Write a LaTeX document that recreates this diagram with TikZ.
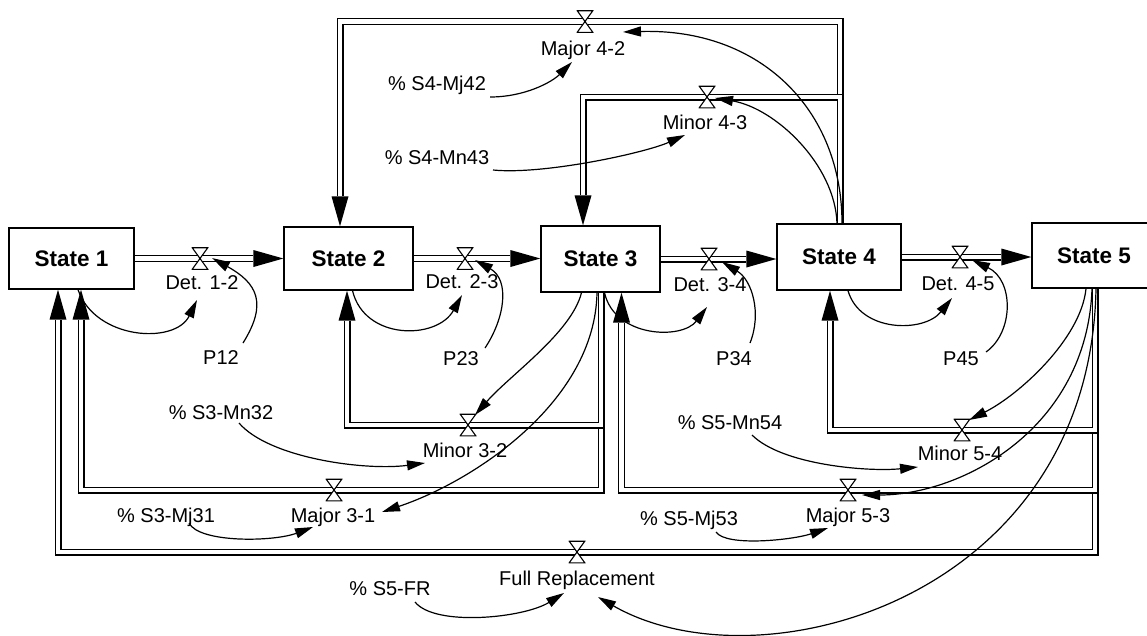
\documentclass[tikz,border=0pt]{standalone}
\usepackage{fontspec}
\setmainfont{Liberation Sans}
\usetikzlibrary{arrows.meta,backgrounds}

\begin{document}
\begin{tikzpicture}[x=1pt,y=-1pt,
  state/.style={draw, line width=1.3pt, fill=white, inner sep=0pt,
    font=\fontsize{22.5}{27}\selectfont\bfseries},
  lbl/.style={inner sep=0pt, text height=14pt, text depth=4pt,
    font=\fontsize{20}{24}\selectfont},
  valve/.style={inner sep=0pt, minimum width=17pt, minimum height=23pt,
    path picture={
      \draw[line width=1.1pt, fill=white]
        ([shift={(0.7pt,-0.7pt)}]path picture bounding box.north west) --
        ([shift={(-0.7pt,-0.7pt)}]path picture bounding box.north east) --
        ([shift={(0.7pt,0.7pt)}]path picture bounding box.south west) --
        ([shift={(-0.7pt,0.7pt)}]path picture bounding box.south east) -- cycle;
    }},
  % a pipe: a 7pt black stroke with a hollow 4.6pt white core
  pipe/.style={draw=black, line width=7pt,
    -{Triangle[length=30pt,width=17pt,line width=0pt]},
    postaction={draw=white, line width=4.6pt, shorten >=30pt, -}},
  info/.style={draw, line width=1.2pt, -{Triangle[length=18pt,width=10pt]}},
]
\useasboundingbox (0,0) rectangle (1147,635);

% stocks
\node[state, minimum width=125pt, minimum height=61pt] (s1) at (71.5,258.5) {State 1};
\node[state, minimum width=129pt, minimum height=63pt] (s2) at (348.5,258.5) {State 2};
\node[state, minimum width=119pt, minimum height=66pt] (s3) at (600.5,259) {State 3};
\node[state, minimum width=124pt, minimum height=66pt] (s4) at (839,257) {State 4};
\node[state, minimum width=124pt, minimum height=65pt] (s5) at (1094,255.5) {State 5};

% flow valves
\node[valve] (v12) at (200,258.5) {};
\node[valve] (v23) at (465,258.5) {};
\node[valve] (v34) at (709,259) {};
\node[valve] (v45) at (960,257) {};
\node[valve] (v42) at (585,21.5) {};
\node[valve] (v43) at (707,97) {};
\node[valve] (v32) at (468,425) {};
\node[valve] (v31) at (334,490) {};
\node[valve] (v54) at (962,430) {};
\node[valve] (v53) at (848,490) {};
\node[valve] (vfr) at (577,552) {};

% flow names
\node[lbl] (l12) at (202,284) {Det. 1-2};
\node[lbl] (l23) at (462,283) {Det. 2-3};
\node[lbl] (l34) at (710,286) {Det. 3-4};
\node[lbl] (l45) at (958,285) {Det. 4-5};
\node[lbl] (l42) at (583,50) {Major 4-2};
\node[lbl] (l43) at (705,124) {Minor 4-3};
\node[lbl] (l32) at (465,452) {Minor 3-2};
\node[lbl] (l31) at (333,517) {Major 3-1};
\node[lbl] (l54) at (960,455) {Minor 5-4};
\node[lbl] (l53) at (848,517) {Major 5-3};
\node[lbl] (lfr) at (577,580) {Full Replacement};

% auxiliary variables
\node[lbl] (p12) at (221,359) {P12};
\node[lbl] (p23) at (461,360) {P23};
\node[lbl] (p34) at (734,360) {P34};
\node[lbl] (p45) at (961,360) {P45};
\node[lbl] (m42) at (437,85) {\% S4-Mj42};
\node[lbl] (m43) at (437,159) {\% S4-Mn43};
\node[lbl] (m32) at (221,414) {\% S3-Mn32};
\node[lbl] (m31) at (166,517) {\% S3-Mj31};
\node[lbl] (m54) at (730,424) {\% S5-Mn54};
\node[lbl] (m53) at (689,520) {\% S5-Mj53};
\node[lbl] (mfr) at (390,590) {\% S5-FR};

% pipes
\begin{scope}[on background layer]
\fill[white] (0,0) rectangle (1147,635);
\draw[pipe] (s1.east) -- (v12.center) -- (v12.center -| s2.west);
\draw[pipe] (s2.east) -- (v23.center) -- (v23.center -| s3.west);
\draw[pipe] (s3.east) -- (v34.center) -- (v34.center -| s4.west);
\draw[pipe] (s4.east) -- (v45.center) -- (v45.center -| s5.west);
\draw[pipe] ([shift={(1,0)}]s4.north) |- (v42.center) -| ([shift={(-8.5,0)}]s2.north);
\draw[pipe] ([shift={(1,0)}]s4.north) |- (v43.center) -| ([shift={(-17.5,0)}]s3.north);
\draw[pipe] ([shift={(0.5,0)}]s3.south) |- (v31.center) -| ([shift={(9.5,0)}]s1.south);
\draw[pipe] ([shift={(0.5,0)}]s3.south) |- (v32.center) -| ([shift={(-1.5,0)}]s2.south);
\draw[pipe] ([shift={(1,0)}]s5.south) |- (vfr.center) -| ([shift={(-13.5,0)}]s1.south);
\draw[pipe] ([shift={(1,0)}]s5.south) |- (v53.center) -| ([shift={(21,0)}]s3.south);
\draw[pipe] ([shift={(1,0)}]s5.south) |- (v54.center) -| ([shift={(-9,0)}]s4.south);
\end{scope}

% information links
\draw[info] ([shift={(6.5,0)}]s1.south) .. controls +(17,50) and +(-22,45) .. ([shift={(-5,16)}]l12.center);
\draw[info] ([shift={(22,-16)}]p12.center) .. controls +(25,-40) and +(45,25) .. ([shift={(12,-0.5)}]v12.center);
\draw[info] ([shift={(4,0)}]s2.south) .. controls +(12,50) and +(-25,45) .. ([shift={(0,12)}]l23.center);
\draw[info] ([shift={(24,-12)}]p23.center) .. controls +(20,-30) and +(35,20) .. ([shift={(10,1.5)}]v23.center);
\draw[info] ([shift={(4,0)}]s3.south) .. controls +(10,45) and +(-25,33) .. ([shift={(-3,21)}]l34.center);
\draw[info] ([shift={(16,-17)}]p34.center) .. controls +(12,-30) and +(30,18) .. ([shift={(13,3)}]v34.center);
\draw[info] ([shift={(9,0)}]s4.south) .. controls +(12,42) and +(-28,35) .. ([shift={(-6,13)}]l45.center);
\draw[info] ([shift={(25,-8)}]p45.center) .. controls +(28,-20) and +(42,20) .. ([shift={(12,3)}]v45.center);
\draw[info] ([shift={(53,12)}]m42.center) .. controls +(35,0) and +(-20,20) .. ([shift={(-11,12)}]l42.center);
\draw[info] ([shift={(56,11)}]m43.center) .. controls +(50,5) and +(-40,18) .. ([shift={(-20,11)}]l43.center);
\draw[info] ([shift={(3,0)}]s4.north) .. controls +(0,-114) and +(137,-4) .. ([shift={(38,10.5)}]v42.center);
\draw[info] ([shift={(-2,0)}]s4.north) .. controls +(-2,-59) and +(60,10) .. ([shift={(8,1)}]v43.center);
\draw[info] ([shift={(18,9)}]m32.center) .. controls +(30,35) and +(-60,8) .. ([shift={(-40,11)}]l32.center);
\draw[info] ([shift={(23,6)}]m31.center) .. controls +(10,20) and +(-40,15) .. ([shift={(-20,10)}]l31.center);
\draw[info] ([shift={(25,12)}]mfr.center) .. controls +(20,25) and +(-40,25) .. ([shift={(-13,13)}]lfr.center);
\draw[info] ([shift={(-19,0)}]s3.south) .. controls +(-10,40) and +(35,-40) .. ([shift={(7,-10)}]v32.center);
\draw[info] ([shift={(-3.5,0)}]s3.south) .. controls +(-2,110) and +(90,-30) .. ([shift={(49,-5)}]l31.center);
\draw[info] ([shift={(-8,0)}]s5.south) .. controls +(-5,50) and +(50,-25) .. ([shift={(7,-10)}]v54.center);
\draw[info] ([shift={(-2,0)}]s5.south) .. controls +(-5,140) and +(100,0) .. ([shift={(14,5)}]v53.center);
\draw[info] ([shift={(2,0)}]s5.south) .. controls +(-6,310) and +(162,93) .. ([shift={(21,17)}]lfr.center);
\draw[info] ([shift={(22,11)}]m54.center) .. controls +(30,30) and +(-50,5) .. ([shift={(-42,12)}]l54.center);
\draw[info] ([shift={(27,12)}]m53.center) .. controls +(10,15) and +(-35,12) .. ([shift={(-20,11)}]l53.center);
\end{tikzpicture}
\end{document}
